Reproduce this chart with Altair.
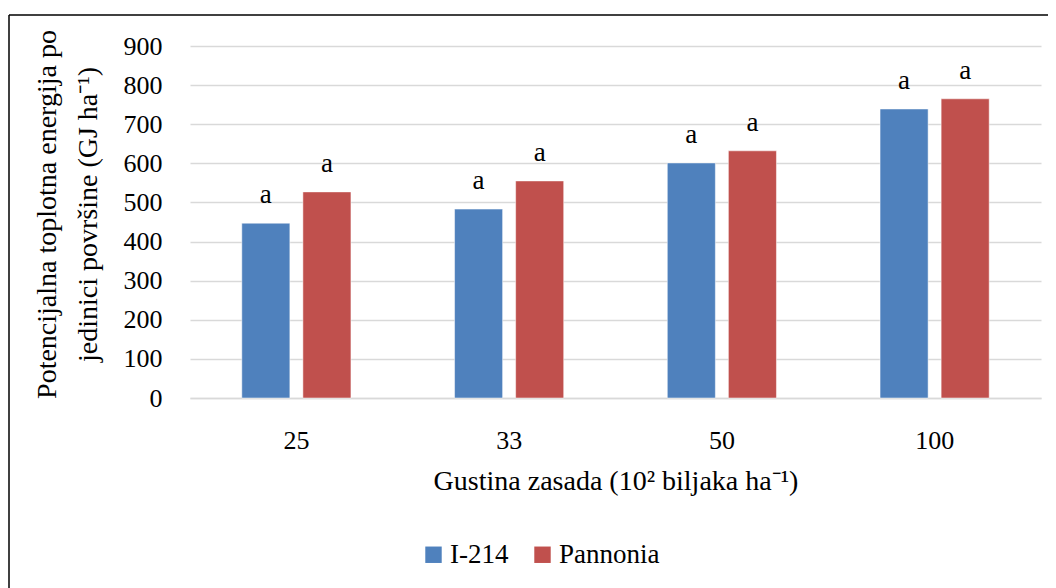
import altair as alt
import pandas as pd

categories = ["25", "33", "50", "100"]
series = ["I-214", "Pannonia"]
i214 = [447, 483, 601, 739]
pannonia = [527, 555, 632, 765]
letters_i214 = ["a", "a", "a", "a"]
letters_pannonia = ["a", "a", "a", "a"]
colors = ["#4F81BD", "#C0504D"]

rows = []
for c, v, l in zip(categories, i214, letters_i214):
    rows.append({"cat": c, "series": "I-214", "value": v, "letter": l})
for c, v, l in zip(categories, pannonia, letters_pannonia):
    rows.append({"cat": c, "series": "Pannonia", "value": v, "letter": l})
df = pd.DataFrame(rows)

FONT = "Liberation Serif"
W, H = 851, 352

x = alt.X("cat:N", sort=categories,
          scale=alt.Scale(paddingInner=0, paddingOuter=0),
          axis=alt.Axis(title="Gustina zasada (10² biljaka ha⁻¹)", labelAngle=0,
                        ticks=False, domain=True, domainColor="#D9D9D9", domainWidth=1.5,
                        labelPadding=29, titlePadding=14, grid=False,
                        labelFontSize=26, titleFontSize=28))
xoff = alt.XOffset("series:N", sort=series,
                   scale=alt.Scale(paddingInner=0.213, paddingOuter=0.848))
y = alt.Y("value:Q", scale=alt.Scale(domain=[0, 900], nice=False),
          axis=alt.Axis(values=list(range(0, 1000, 100)), ticks=False, domain=False,
                        gridColor="#D9D9D9", gridWidth=1.5, labelPadding=28,
                        labelFontSize=26, titleFontSize=28, titleLineHeight=41,
                        title=["Potencijalna toplotna energija po", "jedinici površine (GJ ha⁻¹)"],
                        titleX=-143, titleY=168, titleAngle=-90,
                        titleAlign="center", titleBaseline="middle"))

bars = alt.Chart(df).mark_bar(stroke="white", strokeWidth=0.5).encode(
    x=x, xOffset=xoff, y=y,
    color=alt.Color("series:N", sort=series,
                    scale=alt.Scale(domain=series, range=colors),
                    legend=alt.Legend(title=None, orient="none", direction="horizontal",
                                      legendX=230, legendY=495, symbolType="square",
                                      symbolSize=270, symbolStrokeWidth=0,
                                      labelFontSize=27, labelFont=FONT, labelColor="black",
                                      columnPadding=20, labelOffset=3))
)

text = alt.Chart(df).mark_text(baseline="alphabetic", dy=-20, fontSize=27, font=FONT,
                               color="black").encode(
    x=x, xOffset=xoff, y=y, text="letter:N"
)

border_top = alt.Chart(pd.DataFrame({"k": [0]})).mark_rule(color="black", strokeWidth=1.5).encode(
    x=alt.value(-181), x2=alt.value(W + 30), y=alt.value(-31)
)
border_left = alt.Chart(pd.DataFrame({"k": [0]})).mark_rule(color="black", strokeWidth=1.5).encode(
    x=alt.value(-181), y=alt.value(-31), y2=alt.value(H + 200)
)

chart = alt.layer(bars, text, border_top, border_left).properties(
    width=W, height=H,
    autosize=alt.AutoSizeParams(type="none"),
    padding={"left": 182, "top": 38, "right": 7, "bottom": 190},
).configure_view(stroke=None).configure_axis(
    labelFont=FONT, titleFont=FONT,
    labelColor="black", titleColor="black", titleFontWeight="normal"
)

chart.save("out.html", embed_options={"renderer": "svg", "actions": False})
